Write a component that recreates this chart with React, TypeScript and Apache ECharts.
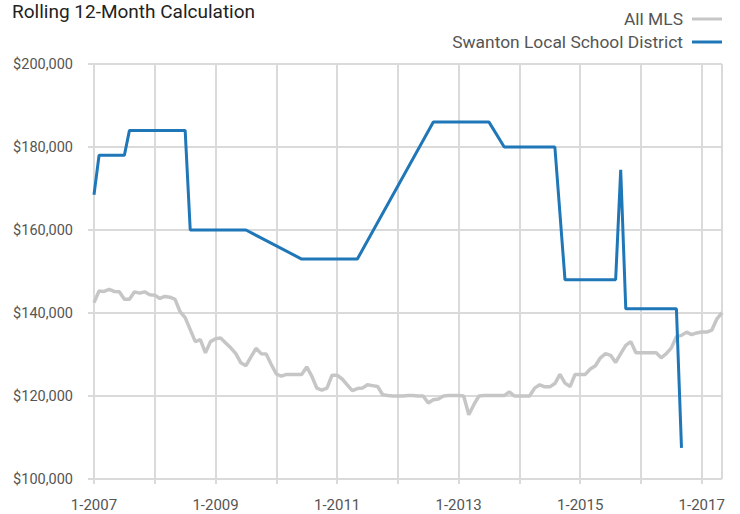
import React, { useEffect, useRef } from "react";
import * as echarts from "echarts";

const startYear = 2007;
const monthCount = 125; // 1-2007 .. 5-2017
const months: string[] = [];
for (let i = 0; i < monthCount; i++) {
  months.push(`${(i % 12) + 1}-${startYear + Math.floor(i / 12)}`);
}

const allMLS: number[] = [
  142500, 145300, 145200, 145700, 145200, 145100, 143300, 143300, 145100, 144800, 145100, 144400,
  144300, 143500, 144000, 143800, 143300, 140300, 138900, 136000, 133100, 133600, 130400, 133100,
  133800, 134000, 132800, 131600, 130200, 128000, 127300, 129400, 131500, 130200, 130100, 127600,
  125300, 124800, 125200, 125200, 125200, 125200, 127000, 124800, 121900, 121400, 121900, 125000,
  125000, 124100, 122700, 121300, 121800, 121900, 122700, 122500, 122300, 120300, 120100, 120000,
  120000, 120000, 120100, 120100, 120000, 120000, 118300, 119100, 119300, 120000, 120100, 120100,
  120100, 120000, 115500, 117900, 120000, 120100, 120100, 120100, 120100, 120100, 121000, 120000,
  120000, 120000, 120000, 121900, 122700, 122200, 122200, 123000, 125200, 123100, 122300, 125200,
  125200, 125200, 126500, 127300, 129200, 130200, 129800, 128100, 130200, 132200, 133100, 130400,
  130400, 130400, 130400, 130400, 129200, 130200, 131600, 134300, 134600, 135400, 134800, 135200,
  135400, 135400, 135900, 138600, 140100,
];

const N = null;
const swanton: (number | null)[] = [
  168500, 178000, 178000, 178000, 178000, 178000, 178000, 184000, 184000, 184000, 184000, 184000,
  184000, 184000, 184000, 184000, 184000, 184000, 184000, 160000, 160000, 160000, 160000, 160000,
  160000, 160000, 160000, 160000, 160000, 160000, 160000, N, N, N, N, N,
  N, N, N, N, N, 153000, 153000, 153000, 153000, 153000, 153000, 153000,
  153000, 153000, 153000, 153000, 153000, N, N, N, N, N, N, N,
  N, N, N, N, N, N, N, 186000, 186000, 186000, 186000, 186000,
  186000, 186000, 186000, 186000, 186000, 186000, 186000, N, N, 180000, 180000, 180000,
  180000, 180000, 180000, 180000, 180000, 180000, 180000, 180000, N, 148000, 148000, 148000,
  148000, 148000, 148000, 148000, 148000, 148000, 148000, 148000, 174500, 141000, 141000, 141000,
  141000, 141000, 141000, 141000, 141000, 141000, 141000, 141000, 107500,
];

const seriesNames = ["All MLS", "Swanton Local School District"];
const seriesColors = ["#c6c6c6", "#1f77b8"];
const titleText = "Rolling 12-Month Calculation";

const gridColor = "#dadada";
const font = "Roboto";

export default function App() {
  const ref = useRef<HTMLDivElement>(null);
  useEffect(() => {
    if (!ref.current) return;
    const chart = echarts.init(ref.current, undefined, { renderer: "svg" });
    chart.setOption({
      animation: false,
      backgroundColor: "#ffffff",
      title: {
        text: titleText,
        left: 12,
        top: 2,
        padding: 0,
        textStyle: { fontFamily: font, fontSize: 19, fontWeight: "normal", color: "#222222" },
      },
      legend: {
        orient: "vertical",
        right: 18,
        top: 10,
        padding: 0,
        align: "right",
        itemWidth: 30,
        itemHeight: 3,
        itemGap: 5,
        icon: "rect",
        textStyle: {
          fontFamily: font,
          fontSize: 17.4,
          color: "#555555",
          lineHeight: 18,
          padding: [0, 4, 0, 0],
        },
        data: seriesNames,
      },
      grid: { left: 94, right: 18, top: 64, bottom: 35, containLabel: false },
      xAxis: {
        type: "category",
        data: months,
        boundaryGap: false,
        axisLine: { show: false },
        axisTick: {
          show: true,
          length: 5,
          interval: (i: number) => i % 12 === 0,
          lineStyle: { color: gridColor, width: 2 },
        },
        axisLabel: {
          interval: (i: number) => i % 24 === 0,
          fontFamily: font,
          fontSize: 15,
          color: "#555555",
          margin: 18,
        },
        splitLine: {
          show: true,
          interval: (i: number) => i % 12 === 0 || i === monthCount - 1,
          lineStyle: { color: gridColor, width: 2 },
        },
      },
      yAxis: {
        type: "value",
        min: 100000,
        max: 200000,
        interval: 20000,
        axisLine: { show: false },
        axisTick: { show: true, length: 6, lineStyle: { color: gridColor, width: 2 } },
        axisLabel: {
          fontFamily: font,
          fontSize: 14.5,
          color: "#555555",
          margin: 21,
          formatter: (v: number) => "$" + v.toLocaleString("en-US"),
        },
        splitLine: { show: true, lineStyle: { color: gridColor, width: 2 } },
      },
      series: [
        {
          name: seriesNames[0],
          type: "line",
          data: allMLS,
          showSymbol: false,
          color: seriesColors[0],
          lineStyle: { width: 3.5, color: seriesColors[0] },
        },
        {
          name: seriesNames[1],
          type: "line",
          data: swanton,
          connectNulls: true,
          showSymbol: false,
          color: seriesColors[1],
          lineStyle: { width: 3, color: seriesColors[1] },
        },
      ],
    });
    return () => chart.dispose();
  }, []);
  return (
    <div
      ref={ref}
      style={{ position: "fixed", left: 0, top: 0, width: 740, height: 514 }}
    />
  );
}
